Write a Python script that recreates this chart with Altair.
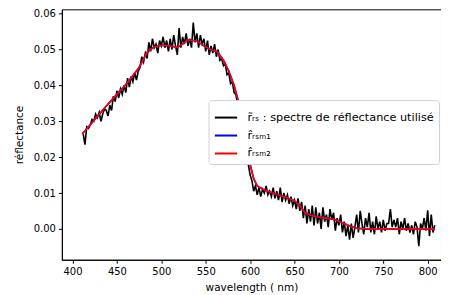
import altair as alt
import pandas as pd

# noisy measured spectrum (2 nm step from 412 to 808 nm)
wl_start = 412
rrs_values = [
    0.0265, 0.0235, 0.0285, 0.0280, 0.0290, 0.0305, 0.0300, 0.0320, 0.0310, 0.0325,
    0.0300, 0.0320, 0.0335, 0.0330, 0.0315, 0.0345, 0.0330, 0.0370, 0.0355, 0.0385,
    0.0365, 0.0390, 0.0375, 0.0400, 0.0380, 0.0420, 0.0395, 0.0425, 0.0410, 0.0435,
    0.0415, 0.0440, 0.0450, 0.0480, 0.0465, 0.0490, 0.0475, 0.0520, 0.0495, 0.0530,
    0.0505, 0.0515, 0.0490, 0.0525, 0.0510, 0.0535, 0.0505, 0.0525, 0.0495, 0.0530,
    0.0500, 0.0540, 0.0510, 0.0485, 0.0560, 0.0505, 0.0535, 0.0515, 0.0545, 0.0510,
    0.0530, 0.0505, 0.0575, 0.0520, 0.0545, 0.0505, 0.0540, 0.0515, 0.0530, 0.0495,
    0.0525, 0.0485, 0.0510, 0.0490, 0.0515, 0.0480, 0.0500, 0.0470, 0.0475, 0.0455,
    0.0460, 0.0430, 0.0435, 0.0405, 0.0410, 0.0380, 0.0375, 0.0345, 0.0340, 0.0310,
    0.0295, 0.0255, 0.0230, 0.0180, 0.0150, 0.0135, 0.0105, 0.0120, 0.0095, 0.0115,
    0.0090, 0.0110, 0.0100, 0.0120, 0.0095, 0.0105, 0.0090, 0.0115, 0.0085, 0.0105,
    0.0080, 0.0115, 0.0075, 0.0100, 0.0080, 0.0095, 0.0070, 0.0090, 0.0065, 0.0080,
    0.0055, 0.0085, 0.0050, 0.0075, 0.0030, 0.0065, 0.0015, 0.0055, 0.0020, 0.0065,
    0.0010, 0.0060, 0.0015, 0.0045, 0.0000, 0.0060, 0.0020, 0.0040, 0.0005, 0.0055,
    0.0025, 0.0045, -0.0005, 0.0030, 0.0010, 0.0040, -0.0010, 0.0020, -0.0020, 0.0010,
    -0.0030, 0.0015, -0.0025, 0.0005, 0.0040, -0.0010, 0.0050, 0.0015, -0.0015, 0.0030,
    0.0005, 0.0045, -0.0010, 0.0020, -0.0015, 0.0035, 0.0000, 0.0020, -0.0010, 0.0025,
    -0.0005, 0.0015, 0.0015, 0.0055, 0.0005, 0.0025, 0.0005, 0.0030, -0.0015, 0.0020,
    0.0000, 0.0030, -0.0005, 0.0015, -0.0010, 0.0010, -0.0015, 0.0020, 0.0005, -0.0048,
    0.0015, 0.0000, 0.0030, -0.0005, 0.0052, -0.0020, 0.0040, -0.0010, 0.0010,
]
rrs_wl = [wl_start + 2 * i for i in range(len(rrs_values))]

# smooth fitted spectra
fit_wl = [411, 420, 435, 450, 462, 475, 484, 492, 500, 510, 518, 524, 530, 540,
          548, 556, 563, 570, 576, 582, 588, 592, 596, 600, 604, 608, 615, 625,
          640, 650, 656, 662, 668, 680, 695, 703, 712, 720, 730, 808]
fit_m1 = [0.0265, 0.0290, 0.0334, 0.0375, 0.0408, 0.0450, 0.0492, 0.0508, 0.0512,
          0.0510, 0.0506, 0.0515, 0.0527, 0.0524, 0.0510, 0.0499, 0.0494, 0.0470,
          0.0440, 0.0400, 0.0345, 0.0300, 0.0240, 0.0180, 0.0140, 0.0120, 0.0110,
          0.0100, 0.0088, 0.0078, 0.0065, 0.0045, 0.0038, 0.0032, 0.0026, 0.0018,
          0.0008, 0.0002, 0.0000, 0.0000]
fit_m2 = [0.0265, 0.0290, 0.0334, 0.0375, 0.0408, 0.0450, 0.0492, 0.0508, 0.0512,
          0.0510, 0.0506, 0.0515, 0.0527, 0.0524, 0.0510, 0.0499, 0.0494, 0.0470,
          0.0440, 0.0400, 0.0345, 0.0300, 0.0240, 0.0180, 0.0140, 0.0120, 0.0110,
          0.0100, 0.0088, 0.0078, 0.0065, 0.0045, 0.0038, 0.0032, 0.0026, 0.0018,
          0.0008, 0.0002, 0.0000, 0.0000]

labels = ["r̃ᵣₛ : spectre de réflectance utilisé", "r̂ᵣₛₘ₁", "r̂ᵣₛₘ₂"]
colors = ["#000000", "#0000ff", "#ff0000"]
x_ticks = [400, 450, 500, 550, 600, 650, 700, 750, 800]
y_ticks = [0.00, 0.01, 0.02, 0.03, 0.04, 0.05, 0.06]

df0 = pd.DataFrame({"wl": rrs_wl, "val": rrs_values, "serie": labels[0]})
df1 = pd.DataFrame({"wl": fit_wl, "val": fit_m1, "serie": labels[1]})
df2 = pd.DataFrame({"wl": fit_wl, "val": fit_m2, "serie": labels[2]})

x_enc = alt.X("wl:Q", scale=alt.Scale(domain=[388, 815], nice=False, zero=False),
              axis=alt.Axis(values=x_ticks, title="wavelength ( nm)", format="d",
                            titlePadding=6))
y_enc = alt.Y("val:Q", scale=alt.Scale(domain=[-0.0086, 0.0612], nice=False, zero=False),
              axis=alt.Axis(values=y_ticks, title="réflectance", format=".2f",
                            titlePadding=9))
c_enc = alt.Color("serie:N", scale=alt.Scale(domain=labels, range=colors),
                  legend=alt.Legend(title=None, orient="none", legendX=147, legendY=91,
                                    symbolType="stroke", symbolSize=500,
                                    symbolStrokeWidth=2, labelFontSize=11.3,
                                    labelFont="DejaVu Sans", labelColor="#000",
                                    labelOffset=9, rowPadding=0,
                                    fillColor="white", strokeColor="#d0d0d0",
                                    cornerRadius=3, padding=5, labelLimit=400))

def layer(df):
    return alt.Chart(df).mark_line(strokeWidth=1.6).encode(
        x=x_enc, y=y_enc, color=c_enc, order=alt.Order("wl:Q"))

chart = alt.layer(layer(df0), layer(df1), layer(df2)).properties(
    width=380, height=251,
    padding={"left": 6, "top": 0, "right": 0, "bottom": 0},
).configure_view(stroke="#000", strokeWidth=1).configure_axis(
    grid=False, domainColor="#000", tickColor="#000", tickSize=3.5,
    labelFont="DejaVu Sans", labelFontSize=10, labelColor="#000",
    titleFont="DejaVu Sans", titleFontSize=10.5, titleFontWeight="normal",
    titleColor="#000", labelPadding=3,
)

chart.save("out.html", embed_options={"renderer": "svg", "actions": False})
